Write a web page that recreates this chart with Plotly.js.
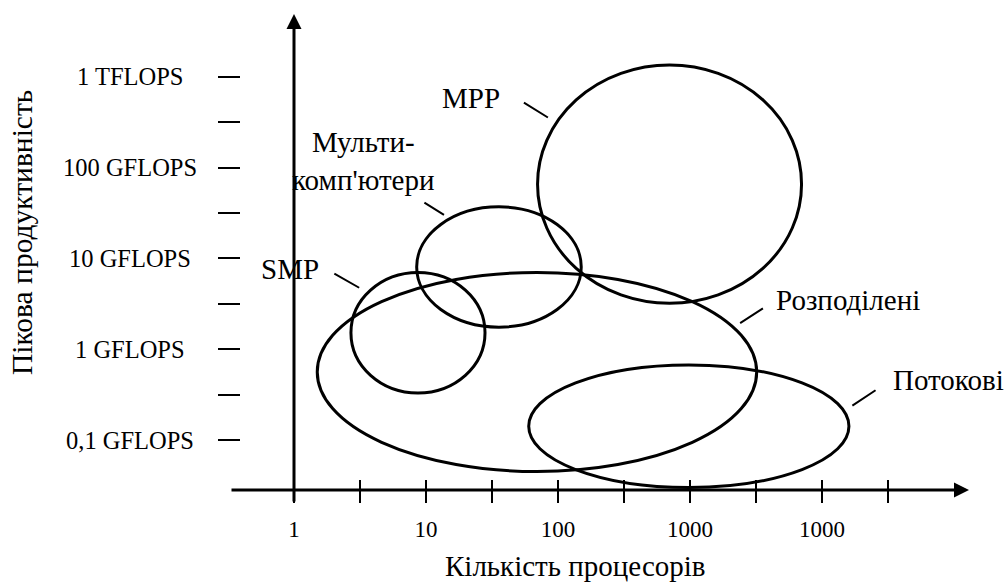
<!DOCTYPE html>
<html><head><meta charset="utf-8">
<script src="https://cdn.plot.ly/plotly-3.0.1.min.js"></script>
<style>html,body{margin:0;padding:0;background:#fff}#chart{width:1006px;height:583px}</style>
</head><body><div id="chart"></div>
<script>
// ---------- data ----------
const classNames = ['MPP', 'Мульти-<br>комп\'ютери', 'SMP', 'Розподілені', 'Потокові'];
const procMin = [70, 8.5, 2.7, 1.5, 60];          // number of processors
const procMax = [7000, 150, 28, 3200, 16000];
const perfMin = [3.2, 1.75, 0.33, 0.045, 0.03];   // peak performance, GFLOPS
const perfMax = [1350, 37, 7, 7, 0.67];

const procDecades = [1, 10, 100, 1000, 10000];
const procTickText = ['1', '10', '100', '1000', '1000'];
const perfDecades = [0.1, 1, 10, 100, 1000];
const perfTickText = ['0,1 GFLOPS', '1 GFLOPS', '10 GFLOPS', '100 GFLOPS', '1 TFLOPS'];

const xTitle = 'Кількість процесорів';
const yTitle = 'Пікова продуктивність';

// ---------- layout helpers (styling / placement, not data) ----------
const lg = Math.log10;
const W = 1006, H = 583;
const X_RANGE = [-294 / 132, (W - 294) / 132];
const Y_RANGE = [(349.2 - H) / 90.8, 349.2 / 90.8];
const FONT = 'Liberation Serif';

// leader lines: angle on ellipse (deg), standoff, tail offset (px), label offset (px), anchor
const leaders = [
  {ang: 149, so: 10, ax: -34, ay: -21, dx: -54, dy: 25, xa: 'right'},
  {ang: 126.6, so: 7, ax: -27, ay: -17, dx: -86, dy: 58, xa: 'center'},
  {ang: 138.4, so: 10, ax: -35, ay: -20, dx: -47, dy: 24, xa: 'right'},
  {ang: 26.6, so: 8, ax: 31, ay: -20, dx: 41, dy: 27, xa: 'left'},
  {ang: 14.2, so: 10, ax: 33, ay: -22, dx: 47, dy: 31, xa: 'left'}
];

const shapes = [];
const annotations = [];

classNames.forEach((name, i) => {
  const x0 = lg(procMin[i]), x1 = lg(procMax[i]);
  const y0 = lg(perfMin[i]), y1 = lg(perfMax[i]);
  shapes.push({type: 'circle', xref: 'x', yref: 'y', x0, x1, y0, y1,
    line: {color: '#000', width: 3}, layer: 'above'});
  const cx = (x0 + x1) / 2, cy = (y0 + y1) / 2, rx = (x1 - x0) / 2, ry = (y1 - y0) / 2;
  const L = leaders[i], a = L.ang * Math.PI / 180;
  const px = cx + rx * Math.cos(a), py = cy + ry * Math.sin(a);
  annotations.push({x: px, y: py, xref: 'x', yref: 'y', ax: L.ax, ay: L.ay, axref: 'pixel', ayref: 'pixel',
    text: '', showarrow: true, arrowhead: 0, arrowwidth: 2, arrowcolor: '#000', standoff: L.so});
  annotations.push({x: px, y: py, xref: 'x', yref: 'y', xshift: L.dx, yshift: L.dy, showarrow: false,
    text: name, xanchor: L.xa, yanchor: 'middle', align: 'center',
    font: {family: FONT, size: 29, color: '#000'}});
});

// y tick labels (centered)
perfDecades.forEach((v, i) => {
  annotations.push({x: 130 / W, xref: 'paper', y: lg(v), yref: 'y', text: perfTickText[i],
    showarrow: false, xanchor: 'center', yanchor: 'middle', font: {family: FONT, size: 24.5, color: '#000'}});
});

// axis titles
annotations.push({x: 575 / W, y: 0, xref: 'paper', yref: 'paper', text: xTitle, showarrow: false,
  xanchor: 'center', yanchor: 'bottom', borderpad: 0, font: {family: FONT, size: 29, color: '#000'}});
annotations.push({x: 22 / W, y: 1 - 233 / H, xref: 'paper', yref: 'paper', text: yTitle, showarrow: false,
  textangle: -90, xanchor: 'center', yanchor: 'middle', font: {family: FONT, size: 29.5, color: '#000'}});

// axis lines with arrows
const xAxisY = (349.2 - 490) / 90.8;
annotations.push({x: (969 - 294) / 132, y: xAxisY, ax: (230 - 294) / 132, ay: xAxisY, xref: 'x', yref: 'y',
  axref: 'x', ayref: 'y', text: '', showarrow: true, arrowhead: 2, arrowwidth: 3, arrowsize: 1, arrowcolor: '#000', standoff: 0});
annotations.push({x: 0, y: (349.2 - 14) / 90.8, ax: 0, ay: (349.2 - 503) / 90.8, xref: 'x', yref: 'y',
  axref: 'x', ayref: 'y', text: '', showarrow: true, arrowhead: 2, arrowwidth: 3, arrowsize: 1, arrowcolor: '#000', standoff: 0});

// ticks
const xTickVals = [], xTickText = [];
procDecades.forEach((d, i) => {
  xTickVals.push(lg(d)); xTickText.push(procTickText[i]);
  xTickVals.push(lg(d) + 0.5); xTickText.push('');
});
const yTickVals = [];
perfDecades.forEach((d, i) => {
  yTickVals.push(lg(d));
  if (i < perfDecades.length - 1) yTickVals.push(lg(d) + 0.5);
});

const layout = {
  width: W, height: H,
  margin: {l: 0, r: 0, t: 0, b: 0, pad: 0},
  paper_bgcolor: '#fff', plot_bgcolor: '#fff',
  showlegend: false,
  font: {family: FONT, color: '#000'},
  xaxis: {range: X_RANGE, showgrid: false, zeroline: false, showline: false,
    anchor: 'free', position: 1 - 479 / H, ticks: 'outside', ticklen: 23, tickwidth: 2, tickcolor: '#000',
    tickmode: 'array', tickvals: xTickVals, ticktext: xTickText, ticklabelstandoff: 6,
    tickfont: {family: FONT, size: 23, color: '#000'}, fixedrange: true},
  yaxis: {range: Y_RANGE, showgrid: false, zeroline: false, showline: false,
    anchor: 'free', position: 240 / W, ticks: 'outside', ticklen: 22, tickwidth: 2, tickcolor: '#000',
    tickmode: 'array', tickvals: yTickVals, showticklabels: false, fixedrange: true},
  shapes, annotations
};

const trace = {x: classNames.map((_, i) => (lg(procMin[i]) + lg(procMax[i])) / 2),
  y: classNames.map((_, i) => (lg(perfMin[i]) + lg(perfMax[i])) / 2),
  mode: 'markers', marker: {opacity: 0}, hoverinfo: 'skip', type: 'scatter'};

Plotly.newPlot('chart', [trace], layout, {staticPlot: true, displayModeBar: false});
</script></body></html>
